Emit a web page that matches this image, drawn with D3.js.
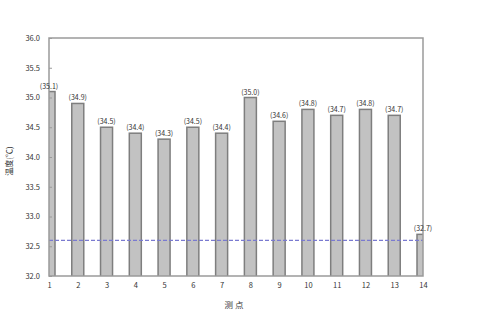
<!DOCTYPE html>
<html lang="zh">
  <head>
    <meta charset="utf-8">
    <style>
      body { margin: 0; background: #fff; }
      text { font-family: "Noto Sans CJK SC", "DejaVu Sans", sans-serif; fill: #333; }
      .bar { fill: #c2c2c2; stroke: #7e7e7e; stroke-width: 1.5; }
      .frame { fill: none; stroke: #9a9a9a; stroke-width: 1.5; }
      .axis path, .axis line { stroke: #9a9a9a; }
    </style>
  </head>
  <body>
  <script src="https://d3js.org/d3.v7.min.js"></script>
  <script>
  var points = [1, 2, 3, 4, 5, 6, 7, 8, 9, 10, 11, 12, 13, 14];
  var temps = [35.1, 34.9, 34.5, 34.4, 34.3, 34.5, 34.4, 35.0, 34.6, 34.8, 34.7, 34.8, 34.7, 32.7];
  var yTicks = [32.0, 32.5, 33.0, 33.5, 34.0, 34.5, 35.0, 35.5, 36.0];
  var refLine = [32.6];

  var width = 480;
  var height = 317;
  var margin = {top: 38, right: 57, bottom: 41, left: 49};
  var w = width - margin.left - margin.right;
  var h = height - margin.top - margin.bottom;

  var svg = d3.select("body")
    .append("svg")
    .attr("width", width)
    .attr("height", height);

  var g = svg.append("g")
    .attr("transform", "translate(" + margin.left + "," + margin.top + ")");

  var x = d3.scaleLinear().domain([1, 14]).range([0, w]);
  var y = d3.scaleLinear().domain([32, 36]).range([h, 0]);
  var barW = 12;

  // clip so the first and last bars get cut by the frame
  g.append("clipPath").attr("id", "plot")
    .append("rect").attr("width", w).attr("height", h);

  var data = points.map(function(p, i) { return {p: p, t: temps[i]}; });

  g.append("g").attr("clip-path", "url(#plot)")
    .selectAll("rect")
    .data(data)
    .enter().append("rect")
    .attr("class", "bar")
    .attr("x", function(d) { return x(d.p) - barW / 2; })
    .attr("y", function(d) { return y(d.t); })
    .attr("width", barW)
    .attr("height", function(d) { return h - y(d.t) + 2; });

  g.selectAll("line.ref")
    .data(refLine)
    .enter().append("line")
    .attr("class", "ref")
    .attr("x1", 0).attr("x2", w)
    .attr("y1", function(d) { return y(d); })
    .attr("y2", function(d) { return y(d); })
    .attr("stroke", "#7a7ad0")
    .attr("stroke-width", 1.2)
    .attr("stroke-dasharray", "4,2");

  g.append("rect").attr("class", "frame").attr("width", w).attr("height", h);

  g.append("g").attr("class", "axis")
    .call(d3.axisLeft(y).tickValues(yTicks).tickSize(-3).tickPadding(9)
      .tickFormat(d3.format(".1f")))
    .call(function(a) { a.select(".domain").remove(); })
    .selectAll("text").style("font-size", "7.5px");

  g.append("g").attr("class", "axis")
    .attr("transform", "translate(0," + h + ")")
    .call(d3.axisBottom(x).tickValues(points).tickSize(0).tickPadding(7)
      .tickFormat(d3.format("d")))
    .call(function(a) { a.select(".domain").remove(); })
    .selectAll("text").style("font-size", "7.5px");

  g.selectAll("text.lbl")
    .data(data)
    .enter().append("text")
    .attr("class", "lbl")
    .attr("x", function(d) { return x(d.p); })
    .attr("y", function(d) { return y(d.t) - 3; })
    .attr("text-anchor", "middle")
    .style("font-size", "7px")
    .text(function(d) { return "(" + d.t.toFixed(1) + ")"; });

  svg.append("text")
    .attr("transform", "translate(12," + (margin.top + h / 2 + 4) + ") rotate(-90)")
    .attr("text-anchor", "middle")
    .style("font-size", "8px")
    .text("温度(℃)");

  svg.append("text")
    .attr("x", 234)
    .attr("y", 308)
    .attr("text-anchor", "middle")
    .style("font-size", "8.5px")
    .text("测 点");
  </script>
  </body>
</html>
